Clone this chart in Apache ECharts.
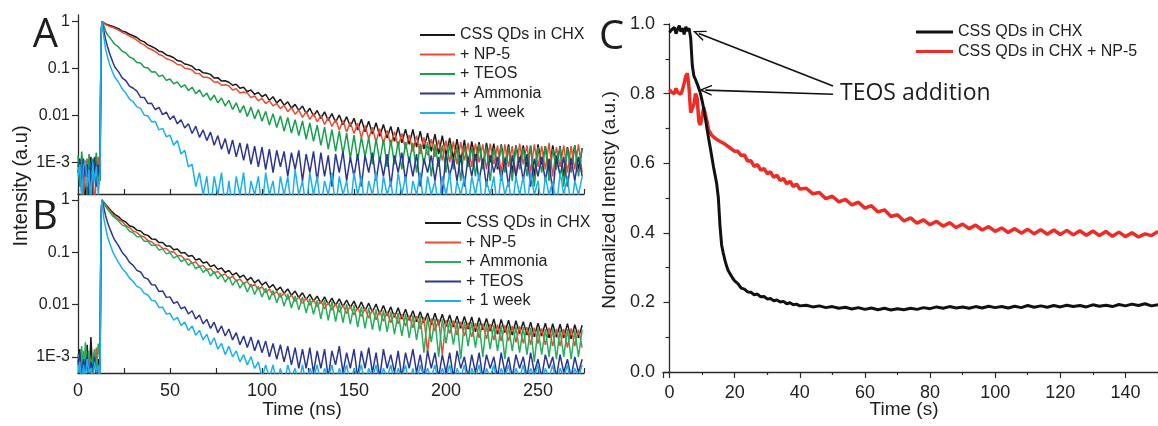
<!DOCTYPE html>
<html>
<head>
<meta charset="utf-8">
<script src="https://cdn.jsdelivr.net/npm/echarts@6/dist/echarts.min.js"></script>
<style>
  html, body { margin: 0; background: #fff; }
  #main { width: 1158px; height: 426px; }
</style>
</head>
<body>
<div id="main"></div>
<script>
// time axis of the decay traces (ns), shared by panels A and B
const timeNs = [0,1,2,3,4,5,6,7,8,9,10,11,12,12.5,13,14,15,16,17,18,19,20,
  22,24,26,28,30,32,34,36,38,40,42,44,46,48,50,52,54,56,58,60,62,64,66,68,70,72,74,76,78,80,
  82,84,86,88,90,92,94,96,98,100,102,104,106,108,110,112,114,116,118,120,122,124,126,128,130,
  132,134,136,138,140,142,144,146,148,150,152,154,156,158,160,162,164,166,168,170,172,174,176,178,180,
  182,184,186,188,190,192,194,196,198,200,202,204,206,208,210,212,214,216,218,220,222,224,226,228,230,
  232,234,236,238,240,242,244,246,248,250,252,254,256,258,260,262,264,266,268,270,272,274];

// panel A
const aCss = [0.0006,0.0012,0.0003,0.0009,0.0001,0.0010,0.0005,0.0013,0.0002,0.0008,0.0011,0.0004,0.0009,
  0.45,1.0, 0.93,0.90,0.87,0.84,0.82,0.79,0.76,
  0.71,0.63,0.60,0.54,0.50, 0.46,0.40,0.37,0.32,0.295, 0.27,0.235,0.225,0.195,0.185, 0.17,0.148,0.143,0.125,0.12,
  0.112,0.095,0.094,0.081,0.079, 0.075,0.063,0.064,0.054,0.055, 0.051,0.044,0.046,0.038,0.040, 0.032,0.035,0.028,0.031,0.025,
  0.028,0.021,0.025,0.0185,0.022, 0.0165,0.0195,0.0143,0.0172,0.0128, 0.0158,0.011,0.0142,0.0098,0.0127, 0.0086,0.0119,0.0078,0.0109,0.0072,
  0.0102,0.0063,0.0094,0.0058,0.0087, 0.0049,0.0083,0.0045,0.0075,0.0040, 0.0070,0.0036,0.0064,0.0033,0.0058, 0.0028,0.0056,0.0026,0.0051,0.0024,
  0.0050,0.0021,0.0046,0.0019,0.0042, 0.0017,0.0040,0.0015,0.0037,0.0014, 0.0033,0.0012,0.0031,0.0010,0.0030, 0.0009,0.0028,0.0011,0.0027,0.0008,
  0.0026,0.0010,0.0025,0.0007,0.0024, 0.0009,0.0024,0.0006,0.0023,0.0010, 0.0023,0.0008,0.0022,0.0005,0.0024, 0.0009,0.0022,0.0006,0.0023,0.0008,
  0.0022,0.0005,0.0021,0.0009,0.0023, 0.0007,0.0020];
const aNp5 = [0.0009,0.0004,0.0011,0.0002,0.0008,0.0012,0.0003,0.0007,0.0010,0.0001,0.0006,0.0013,0.0005,
  0.45,1.0, 0.91,0.87,0.83,0.80,0.78,0.75,0.72,
  0.66,0.59,0.55,0.49,0.455, 0.405,0.35,0.32,0.275,0.255, 0.23,0.20,0.188,0.162,0.153, 0.141,0.122,0.119,0.102,0.099,
  0.093,0.078,0.078,0.065,0.065, 0.061,0.051,0.052,0.044,0.045, 0.043,0.035,0.037,0.030,0.0315, 0.030,0.024,0.026,0.0205,0.023,
  0.018,0.0205,0.016,0.018,0.014, 0.0165,0.012,0.0147,0.0106,0.013, 0.0091,0.012,0.0082,0.0109,0.0073, 0.0101,0.0064,0.0091,0.0058,0.0082,
  0.0049,0.0078,0.0044,0.0071,0.0041, 0.0068,0.0034,0.0061,0.0032,0.0056, 0.0027,0.0052,0.0025,0.0048,0.0023, 0.0045,0.0021,0.0041,0.0019,0.0038,
  0.0017,0.0037,0.0015,0.0034,0.0014, 0.0031,0.0013,0.0030,0.0011,0.0029, 0.0010,0.0028,0.0009,0.0027,0.0011, 0.0026,0.0008,0.0025,0.0010,0.0024,
  0.0007,0.0025,0.0009,0.0023,0.0006, 0.0024,0.0008,0.0022,0.0005,0.0025, 0.0009,0.0023,0.0006,0.0024,0.0008, 0.0022,0.0007,0.0026,0.0005,0.0021,
  0.0008,0.0023,0.0006,0.0022,0.0007, 0.0024,0.0006];
const aTeos = [0.0014,0.0003,0.0017,0.0006,0.0010,0.0002,0.0015,0.0005,0.0012,0.0008,0.0016,0.0003,0.0011,
  0.45,1.0, 0.82,0.63,0.53,0.47,0.42,0.37,0.33,
  0.29,0.235,0.215,0.176,0.163, 0.135,0.131,0.107,0.103,0.084, 0.085,0.068,0.072,0.056,0.060, 0.047,0.052,0.040,0.045,0.034,
  0.040,0.029,0.035,0.025,0.030, 0.021,0.027,0.0185,0.0235,0.016, 0.021,0.0133,0.0186,0.0115,0.0162, 0.0095,0.015,0.0085,0.0133,0.0075,
  0.0122,0.0062,0.0109,0.0055,0.0098, 0.0046,0.009,0.0042,0.0081,0.0037, 0.0076,0.0031,0.0069,0.0028,0.0062, 0.0023,0.0056,0.0019,0.0050,0.0017,
  0.0046,0.0015,0.0042,0.0012,0.0038, 0.0011,0.0035,0.0013,0.0034,0.0009, 0.0032,0.0010,0.0031,0.0008,0.0030, 0.0009,0.0028,0.0007,0.0027,0.0010,
  0.0026,0.0006,0.0025,0.0009,0.0027, 0.0005,0.0024,0.0008,0.0023,0.0006, 0.0025,0.0007,0.0022,0.0004,0.0023, 0.0008,0.0021,0.0005,0.0024,0.0007,
  0.0022,0.0004,0.0020,0.0008,0.0023, 0.0006,0.0021,0.0004,0.0022,0.0007, 0.0020,0.0005,0.0023,0.0003,0.0021, 0.0006,0.0022,0.0004,0.0019,0.0007,
  0.0021,0.0003,0.0020,0.0006,0.0022, 0.0005,0.0020];
const aAmmonia = [0.0008,0.0011,0.0002,0.0012,0.0005,0.0009,0.0001,0.0010,0.0006,0.0013,0.0003,0.0009,0.0004,
  0.45,1.0, 0.65,0.42,0.30,0.22,0.172,0.135,0.108,
  0.086,0.063,0.055,0.042,0.038, 0.033,0.0245,0.0242,0.018,0.0181, 0.0132,0.0148,0.0104,0.0118,0.0082, 0.0098,0.0066,0.0081,0.0054,0.0066,
  0.0041,0.0059,0.0034,0.0049,0.0029, 0.0044,0.0023,0.0037,0.0019,0.0032, 0.0015,0.0030,0.0013,0.0026,0.0011, 0.0025,0.0009,0.0022,0.0008,0.0021,
  0.0007,0.0019,0.0006,0.0018,0.0008, 0.0017,0.0005,0.0016,0.0007,0.0018, 0.0004,0.0015,0.0006,0.0017,0.0004, 0.0016,0.0005,0.0014,0.0003,0.0015,
  0.0006,0.0017,0.0004,0.0013,0.0005, 0.0015,0.0003,0.0014,0.0006,0.0016, 0.0004,0.0013,0.0005,0.0015,0.0003, 0.0014,0.0006,0.0016,0.0004,0.0013,
  0.0005,0.0015,0.0003,0.0012,0.0006, 0.0014,0.0004,0.0013,0.0002,0.0015, 0.0005,0.0012,0.0004,0.0014,0.0003, 0.0013,0.0005,0.0015,0.0004,0.0012,
  0.0003,0.0014,0.0006,0.0013,0.0004, 0.0012,0.0003,0.0014,0.0005,0.0013, 0.0004,0.0015,0.0003,0.0012,0.0005, 0.0013,0.0004,0.0012,0.0002,0.0014,
  0.0005,0.0013,0.0003,0.0012,0.0004, 0.0013,0.0005];
const aWeek = [0.0005,0.0009,0.0002,0.0008,0.0011,0.0003,0.0007,0.0001,0.0010,0.0004,0.0008,0.0002,0.0006,
  0.45,1.0, 0.48,0.26,0.18,0.13,0.10,0.08,0.066,
  0.051,0.037,0.030,0.0222,0.0195, 0.0152,0.0141,0.0102,0.0097,0.0073, 0.0074,0.0049,0.0053,0.0035,0.0038, 0.0023,0.0029,0.0015,0.0018,0.0008,
  0.0009,0.0003,0.0006,0.0002,0.0005, 0.0001,0.0005,0.0002,0.0006,0.0001, 0.0004,0.0001,0.0005,0.0002,0.0006, 0.0001,0.0004,0.0002,0.0005,0.0001,
  0.0006,0.0002,0.0004,0.0001,0.0005, 0.0002,0.0005,0.0001,0.0007,0.0002, 0.0004,0.0001,0.0006,0.0002,0.0005, 0.0001,0.0004,0.0002,0.0006,0.0001,
  0.0005,0.0002,0.0004,0.0001,0.0006, 0.0002,0.0005,0.0001,0.0004,0.0002, 0.0006,0.0001,0.0005,0.0002,0.0004, 0.0001,0.0006,0.0002,0.0005,0.0001,
  0.0004,0.0002,0.0006,0.0001,0.0005, 0.0002,0.0004,0.0001,0.0005,0.0002, 0.0006,0.0001,0.0004,0.0002,0.0005, 0.0001,0.0005,0.0002,0.0006,0.0001,
  0.0004,0.0002,0.0005,0.0001,0.0006, 0.0002,0.0004,0.0001,0.0005,0.0002, 0.0005,0.0001,0.0006,0.0002,0.0004, 0.0001,0.0005,0.0002,0.0004,0.0001,
  0.0006,0.0002,0.0005,0.0001,0.0004, 0.0002,0.0005];

// panel B
const bCss = [0.0008,0.0014,0.0004,0.0011,0.0006,0.0017,0.0003,0.0024,0.0005,0.0012,0.0004,0.0009,0.0006,
  0.45,1.0, 0.90,0.82,0.75,0.68,0.62,0.57,0.53,
  0.48,0.41,0.38,0.32,0.305, 0.265,0.254,0.218,0.21,0.18, 0.178,0.153,0.153,0.131,0.132, 0.112,0.115,0.097,0.099,0.084,
  0.087,0.071,0.075,0.062,0.065, 0.053,0.057,0.047,0.050,0.041, 0.045,0.0365,0.0405,0.033,0.0365, 0.029,0.033,0.026,0.0298,0.0235,
  0.027,0.0209,0.024,0.0186,0.0215, 0.0164,0.0199,0.015,0.0181,0.0136, 0.0168,0.0124,0.0156,0.0116,0.0145, 0.0106,0.014,0.0101,0.0133,0.0096,
  0.0128,0.0091,0.0122,0.0087,0.0116, 0.008,0.0112,0.0076,0.0106,0.0072, 0.0102,0.0066,0.0096,0.0062,0.009, 0.0057,0.0087,0.0053,0.0081,0.005,
  0.0076,0.0047,0.0073,0.0045,0.0069, 0.0041,0.0068,0.004,0.0065,0.0038, 0.0063,0.0037,0.0060,0.0035,0.0059, 0.0034,0.0058,0.0030,0.0056,0.0033,
  0.0054,0.0031,0.0053,0.0027,0.0052, 0.0029,0.0050,0.0026,0.0049,0.0028, 0.0047,0.0026,0.0046,0.0024,0.0044, 0.0025,0.0044,0.0023,0.0043,0.0024,
  0.0042,0.0023,0.0043,0.0022,0.0041, 0.0023,0.0040];
const bNp5 = [0.0006,0.0010,0.0003,0.0013,0.0005,0.0008,0.0011,0.0004,0.0009,0.0006,0.0015,0.0003,0.0007,
  0.45,1.0, 0.88,0.79,0.71,0.64,0.58,0.53,0.49,
  0.425,0.385,0.325,0.295,0.255, 0.24,0.207,0.195,0.168,0.158, 0.139,0.137,0.119,0.117,0.101, 0.102,0.086,0.087,0.073,0.074,
  0.062,0.065,0.053,0.056,0.046, 0.049,0.040,0.0435,0.0355,0.0385, 0.0313,0.0347,0.028,0.031,0.0248, 0.0277,0.0218,0.0245,0.0193,0.022,
  0.0168,0.0198,0.0152,0.0179,0.0137, 0.0167,0.0126,0.0153,0.0115,0.014, 0.0105,0.0133,0.0097,0.0124,0.009, 0.0117,0.0083,0.011,0.0078,0.0103,
  0.0071,0.0098,0.0067,0.0093,0.0063, 0.0088,0.0059,0.0084,0.0055,0.0080, 0.0051,0.0075,0.0048,0.0072,0.0045, 0.0068,0.0043,0.0065,0.0039,0.0061,
  0.0036,0.0060,0.0034,0.0057,0.0012, 0.0054,0.0031,0.0052,0.0011,0.0050, 0.0028,0.0049,0.0026,0.0047,0.0025, 0.0045,0.0024,0.0044,0.0023,0.0043,
  0.0022,0.0042,0.0021,0.0041,0.0020, 0.0040,0.0020,0.0039,0.0019,0.0038, 0.0018,0.0037,0.0017,0.0036,0.0018, 0.0035,0.0017,0.0036,0.0016,0.0034,
  0.0016,0.0034,0.0015,0.0035,0.0016, 0.0033,0.0015];
const bAmmonia = [0.0011,0.0005,0.0016,0.0004,0.0019,0.0007,0.0013,0.0003,0.0009,0.0014,0.0005,0.0018,0.0008,
  0.45,1.0, 0.85,0.75,0.67,0.60,0.54,0.49,0.45,
  0.40,0.33,0.31,0.252,0.236, 0.198,0.198,0.163,0.162,0.134, 0.138,0.11,0.116,0.093,0.098, 0.077,0.085,0.066,0.073,0.056,
  0.064,0.048,0.055,0.041,0.048, 0.035,0.0425,0.031,0.0375,0.027, 0.034,0.0233,0.030,0.0206,0.0265, 0.0174,0.0247,0.0156,0.0222,0.014,
  0.0206,0.0122,0.0186,0.0108,0.0167, 0.0093,0.0159,0.0086,0.0146,0.0079, 0.014,0.0069,0.0131,0.0065,0.0121, 0.0053,0.0122,0.005,0.0115,0.0047,
  0.0108,0.0045,0.0102,0.0042,0.0097, 0.0037,0.0091,0.0035,0.0087,0.0033, 0.0081,0.0031,0.0077,0.0030,0.0073, 0.0027,0.0069,0.0025,0.0066,0.0023,
  0.0062,0.0021,0.0060,0.0012,0.0057, 0.0019,0.0054,0.0010,0.0052,0.0018, 0.0050,0.0017,0.0048,0.0009,0.0047, 0.0016,0.0046,0.0015,0.0044,0.0010,
  0.0043,0.0014,0.0041,0.0013,0.0040, 0.0009,0.0039,0.0013,0.0038,0.0012, 0.0037,0.0011,0.0036,0.0008,0.0035, 0.0011,0.0034,0.0010,0.0035,0.0009,
  0.0033,0.0010,0.0034,0.0009,0.0032, 0.0010,0.0033];
const bTeos = [0.0007,0.0012,0.0004,0.0009,0.0005,0.0011,0.0003,0.0008,0.0006,0.0010,0.0004,0.0007,0.0005,
  0.45,1.0, 0.72,0.50,0.38,0.30,0.245,0.20,0.17,
  0.134,0.099,0.083,0.064,0.056, 0.045,0.042,0.0327,0.0307,0.0239, 0.0236,0.0177,0.0182,0.0137,0.014, 0.0105,0.0113,0.0083,0.009,0.0066,
  0.0076,0.0053,0.0063,0.0043,0.0052, 0.0035,0.0046,0.0029,0.0039,0.0025, 0.0034,0.0021,0.0029,0.0017,0.0025, 0.0015,0.0024,0.0013,0.0021,0.0012,
  0.0020,0.0010,0.0018,0.0009,0.0017, 0.0008,0.0016,0.0007,0.0015,0.0006, 0.0014,0.0006,0.0015,0.0005,0.0013, 0.0006,0.0014,0.0004,0.0013,0.0007,
  0.0016,0.0005,0.0012,0.0006,0.0014, 0.0004,0.0013,0.0006,0.0015,0.0005, 0.0012,0.0004,0.0014,0.0006,0.0011, 0.0005,0.0013,0.0004,0.0012,0.0006,
  0.0014,0.0005,0.0011,0.0004,0.0013, 0.0006,0.0012,0.0004,0.0011,0.0005, 0.0012,0.0004,0.0013,0.0006,0.0010, 0.0004,0.0011,0.0005,0.0012,0.0004,
  0.0011,0.0006,0.0010,0.0004,0.0012, 0.0005,0.0010,0.0004,0.0011,0.0006, 0.0010,0.0004,0.0012,0.0005,0.0009, 0.0004,0.0011,0.0006,0.0010,0.0004,
  0.0011,0.0005,0.0009,0.0004,0.0010, 0.0005,0.0009];
const bWeek = [0.0005,0.0008,0.0003,0.0007,0.0004,0.0009,0.0005,0.0006,0.0003,0.0008,0.0005,0.0007,0.0004,
  0.45,1.0, 0.45,0.30,0.20,0.155,0.125,0.10,0.085,
  0.064,0.049,0.041,0.032,0.0275, 0.0222,0.0206,0.0163,0.0152,0.012, 0.0117,0.0088,0.0089,0.0066,0.0068, 0.005,0.0057,0.004,0.0046,0.0032,
  0.0039,0.0026,0.0032,0.0021,0.0027, 0.0017,0.0023,0.0014,0.0018,0.0011, 0.0016,0.001,0.0013,0.0008,0.0011, 0.0007,0.001,0.0006,0.0008,0.0004,
  0.0007,0.0004,0.0007,0.0003,0.0006, 0.0003,0.0007,0.0004,0.0006,0.0003, 0.0007,0.0003,0.0006,0.0004,0.0007, 0.0003,0.0006,0.0004,0.0007,0.0003,
  0.0006,0.0004,0.0007,0.0003,0.0006, 0.0004,0.0007,0.0003,0.0006,0.0004, 0.0007,0.0003,0.0006,0.0004,0.0007, 0.0003,0.0006,0.0004,0.0007,0.0003,
  0.0006,0.0003,0.0007,0.0004,0.0006, 0.0004,0.0007,0.0003,0.0006,0.0004, 0.0007,0.0003,0.0006,0.0004,0.0007, 0.0003,0.0006,0.0004,0.0007,0.0003,
  0.0006,0.0004,0.0007,0.0003,0.0006, 0.0004,0.0007,0.0003,0.0006,0.0004, 0.0007,0.0003,0.0006,0.0004,0.0007, 0.0003,0.0006,0.0004,0.0007,0.0003,
  0.0006,0.0004,0.0007,0.0003,0.0006, 0.0004,0.0007];

// panel C, time in s
const timeS = [0,0.5,1,1.5,2,2.5,3,3.5,4,4.5,5,5.5,6,6.5,7,7.5,8,8.5,9,9.5,10,10.5,11,11.5,12,12.5,13,13.5,14,14.5,
  15,15.5,16,16.5,17,17.5,18,18.5,19,19.5,20,
  21,22,23,24,25,26,27,28,29,30,31,32,33,34,35,36,37,38,39,40,
  42,44,46,48,50,52,54,56,58,60,62,64,66,68,70,72,74,76,78,80,82,84,86,88,90,92,94,96,98,100,
  102,104,106,108,110,112,114,116,118,120,122,124,126,128,130,132,134,136,138,140,142,144,146,148,150];
const cCss = [0.975,0.982,0.978,0.99,0.972,0.985,0.995,0.978,0.988,0.97,0.992,0.98,0.988,
  0.96,0.88,0.85,0.84,0.828,0.815,0.80,0.78,0.757,0.73,0.70,0.672,0.645,0.618,0.59,0.565,0.54,0.50,0.42,0.365,
  0.342,0.322,0.305,0.292,0.284,0.276,0.268,0.262,
  0.254,0.241,0.238,0.230,0.229,0.222,0.224,0.216,0.217,0.210,0.211,0.205,0.207,0.201,0.203,0.196,0.199,0.193,0.195,0.190,
  0.192,0.187,0.190,0.185,0.188,0.183,0.186,0.181,0.185,0.180, 0.184,0.179,0.183,0.178,0.182,0.179,0.183,0.180,0.185,0.182,
  0.187,0.183,0.188,0.184,0.187,0.183,0.188,0.184,0.189,0.185, 0.188,0.184,0.189,0.185,0.191,0.186,0.190,0.186,0.191,0.187,
  0.192,0.188,0.191,0.187,0.193,0.189,0.192,0.188,0.194,0.190, 0.195,0.191,0.196,0.190,0.193];
const cNp5 = [0.812,0.805,0.81,0.80,0.815,0.803,0.808,0.798,0.812,0.83,
  0.85,0.858,0.815,0.745,0.74,0.77,0.80,0.785,0.72,0.71,
  0.735,0.76,0.755,0.72,0.695,0.688,0.68,0.676,0.672,0.668,
  0.665,0.662,0.66,0.657,0.655,0.65,0.648,0.643,0.641,0.636, 0.634,
  0.634,0.622,0.624,0.606,0.607,0.591,0.596,0.58,0.585,0.57,0.575,0.559,0.566,0.55,0.556,0.541,0.548,0.533,0.54,0.526,
  0.528,0.512,0.516,0.498,0.505,0.489,0.496,0.480,0.488,0.471, 0.478,0.46,0.466,0.447,0.452,0.434,0.443,0.428,0.437,0.423,
  0.433,0.419,0.429,0.415,0.425,0.412,0.422,0.408,0.418,0.404, 0.414,0.401,0.412,0.399,0.41,0.397,0.409,0.396,0.408,0.395,
  0.407,0.394,0.406,0.393,0.405,0.392,0.404,0.39,0.402,0.389, 0.4,0.388,0.397,0.392,0.404];

// arrow ends for the "TEOS addition" note, in panel C data units
const arrowUpper = [[50.2, 0.822], [9.0, 0.973]];
const arrowLower = [[50.2, 0.798], [11.0, 0.81]];

const AXIS = '#2a2a2a';
const FONT = 'Liberation Sans';
// open chevron arrow head, tip at the top
const arrowHead = 'path://M5,0 L10,12 L8.6,12 L5,3.4 L1.4,12 L0,12 Z';

function pairs(ts, vs) {
  return ts.map(function (t, i) { return [t, vs[i]]; });
}

function logLabel(v) {
  if (v < 0.005) return '1E' + Math.round(Math.log10(v));
  return String(+v.toPrecision(1));
}

function stripName(name) {
  return name.slice(2);
}

function decayX(grid, showLabels) {
  return {
    type: 'value', gridIndex: grid, min: 0, max: 275, interval: 25,
    axisLine: { show: true, onZero: false, lineStyle: { color: AXIS, width: 1.3 } },
    axisTick: { show: true, inside: true, length: 5, lineStyle: { color: AXIS, width: 1.2 } },
    axisLabel: {
      show: showLabels, margin: 9, fontSize: 18, color: '#222', fontFamily: FONT,
      formatter: function (v) { return v % 50 === 0 ? String(v) : ''; }
    },
    splitLine: { show: false }
  };
}

function decayY(grid, min, max) {
  return {
    type: 'log', logBase: 10, gridIndex: grid, min: min, max: max,
    axisLine: { show: true, lineStyle: { color: AXIS, width: 1.3 } },
    axisTick: { show: true, length: 6, lineStyle: { color: AXIS, width: 1.2 } },
    axisLabel: {
      margin: 8, fontSize: 16, color: '#222', fontFamily: FONT,
      showMinLabel: false, showMaxLabel: false, formatter: logLabel
    },
    splitLine: { show: false }
  };
}

function trace(name, grid, vals, color) {
  return {
    name: name, type: 'line', xAxisIndex: grid, yAxisIndex: grid,
    data: pairs(timeNs, vals), symbol: 'none', clip: true,
    lineStyle: { color: color, width: 1.5 }, itemStyle: { color: color },
    z: 2
  };
}

const C_BLACK = '#1a1a1a', C_RED = '#ef4a30', C_GREEN = '#16a04b',
  C_GREEN_B = '#22b05c', C_NAVY = '#2b3594', C_CYAN = '#19b1ee';

function legendBox(left, top, names, width, thick) {
  return {
    left: left, top: top, orient: 'vertical', icon: 'rect',
    itemWidth: width, itemHeight: thick, itemGap: 3.5,
    data: names, formatter: stripName, selectedMode: false,
    textStyle: { fontSize: 16, fontFamily: FONT, color: '#222', lineHeight: 16 }
  };
}

function note(text, x, y, size, family, rot, align) {
  return {
    type: 'text', x: x, y: y, rotation: rot || 0, silent: true,
    style: {
      text: text, fontSize: size, fontFamily: family, fill: '#1e1e1e',
      align: align || 'center', verticalAlign: 'middle',
      textAlign: align || 'center', textVerticalAlign: 'middle'
    }
  };
}

let myChart = echarts.init(document.getElementById('main'));

myChart.setOption({
  backgroundColor: '#fff',
  animation: false,
  grid: [
    { left: 78, right: 574, top: 15, bottom: 232 },
    { left: 78, right: 574, top: 194, bottom: 53 },
    { left: 663, right: 0, top: 24, bottom: 54 }
  ],
  xAxis: [
    decayX(0, false),
    decayX(1, true),
    {
      type: 'value', gridIndex: 2, min: -2, max: 150, splitNumber: 8,
      axisLine: { show: true, onZero: false, lineStyle: { color: AXIS, width: 1.3 } },
      axisTick: { show: true, length: 6, lineStyle: { color: AXIS, width: 1.2 } },
      minorTick: { show: true, splitNumber: 2, length: 3, lineStyle: { color: AXIS, width: 1.2 } },
      axisLabel: { margin: 12, fontSize: 18, color: '#222', fontFamily: FONT, showMinLabel: false, showMaxLabel: false },
      splitLine: { show: false }
    }
  ],
  yAxis: [
    decayY(0, 2.1e-4, 1.39),
    decayY(1, 4.9e-4, 1.30),
    {
      type: 'value', gridIndex: 2, min: 0, max: 1, interval: 0.2,
      axisLine: { show: true, lineStyle: { color: AXIS, width: 1.3 } },
      axisTick: { show: true, length: 6, lineStyle: { color: AXIS, width: 1.2 } },
      minorTick: { show: true, splitNumber: 2, length: 4, lineStyle: { color: AXIS, width: 1.2 } },
      axisLabel: {
        margin: 8, fontSize: 18, color: '#222', fontFamily: FONT,
        formatter: function (v) { return v.toFixed(1); }
      },
      splitLine: { show: false }
    }
  ],
  legend: [
    legendBox(415, 22, ['A:CSS QDs in CHX', 'A:+ NP-5', 'A:+ TEOS', 'A:+ Ammonia', 'A:+ 1 week'], 35, 2),
    legendBox(420, 210, ['B:CSS QDs in CHX', 'B:+ NP-5', 'B:+ Ammonia', 'B:+ TEOS', 'B:+ 1 week'], 36, 2),
    legendBox(911, 19, ['C:CSS QDs in CHX', 'C:CSS QDs in CHX + NP-5'], 37, 3)
  ],
  series: [
    trace('A:CSS QDs in CHX', 0, aCss, C_BLACK),
    trace('A:+ NP-5', 0, aNp5, C_RED),
    trace('A:+ TEOS', 0, aTeos, C_GREEN),
    trace('A:+ Ammonia', 0, aAmmonia, C_NAVY),
    trace('A:+ 1 week', 0, aWeek, C_CYAN),
    trace('B:CSS QDs in CHX', 1, bCss, C_BLACK),
    trace('B:+ NP-5', 1, bNp5, C_RED),
    trace('B:+ Ammonia', 1, bAmmonia, C_GREEN_B),
    trace('B:+ TEOS', 1, bTeos, C_NAVY),
    trace('B:+ 1 week', 1, bWeek, C_CYAN),
    {
      name: 'C:CSS QDs in CHX + NP-5', type: 'line', xAxisIndex: 2, yAxisIndex: 2,
      data: pairs(timeS, cNp5), symbol: 'none',
      lineStyle: { color: '#ee2b24', width: 3.5 }, itemStyle: { color: '#ee2b24' }
    },
    {
      name: 'C:CSS QDs in CHX', type: 'line', xAxisIndex: 2, yAxisIndex: 2,
      data: pairs(timeS, cCss), symbol: 'none',
      lineStyle: { color: '#111', width: 3 }, itemStyle: { color: '#111' },
      markLine: {
        silent: true, animation: false,
        symbol: ['none', arrowHead], symbolSize: [11, 13],
        lineStyle: { color: '#111', width: 1.6, type: 'solid' },
        label: { show: false },
        data: [
          [{ coord: arrowUpper[0] }, { coord: arrowUpper[1] }],
          [{ coord: arrowLower[0] }, { coord: arrowLower[1] }]
        ]
      }
    }
  ],
  graphic: [
    note('A', 45.5, 36, 40, 'Open Sans'),
    note('B', 45, 218, 40, 'Open Sans'),
    note('C', 611.5, 37.5, 40, 'Open Sans'),
    note('Intensity (a.u)', 21, 186, 20, FONT, Math.PI / 2),
    note('Normalized Intensty (a.u.)', 609.5, 200, 19, FONT, Math.PI / 2),
    note('Time (ns)', 302, 410, 19, FONT),
    note('Time (s)', 904, 410, 19, FONT),
    note('TEOS addition', 840, 93, 23, 'Open Sans', 0, 'left')
  ]
});
</script>
</body>
</html>
